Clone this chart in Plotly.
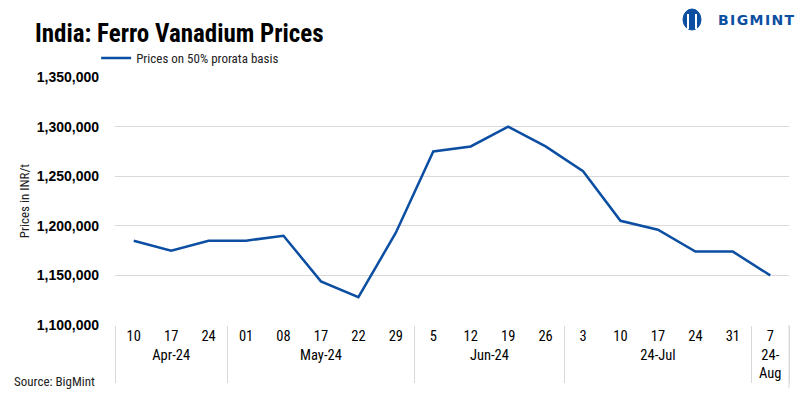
import plotly.graph_objects as go

months = ["Apr-24"] * 3 + ["May-24"] * 5 + ["Jun-24"] * 4 + ["24-Jul"] * 5 + ["24-<br>Aug"]
days = ["10", "17", "24", "01", "08", "17", "22", "29", "5", "12", "19", "26",
        "3", "10", "17", "24", "31", "7"]
prices = [1185000, 1175000, 1185000, 1185000, 1190000, 1144000, 1128000, 1193000,
          1275000, 1280000, 1300000, 1280000, 1255000, 1205000, 1196000, 1174000,
          1174000, 1150000]
series_name = "Prices on 50% prorata basis"

# plotly orders multicategory inner labels by first appearance, so repeated day
# labels get invisible zero-width suffixes to keep chronological order
seen = {}
day_labels = []
for d in days:
    n = seen.get(d, 0)
    day_labels.append(d + "\u200b" * n)
    seen[d] = n + 1

FONT = "Roboto Condensed, Liberation Sans, sans-serif"
BLUE = "#0b4ea2"
GRID = "#d9d9d9"

fig = go.Figure()
fig.add_trace(go.Scatter(
    x=[months, day_labels], y=prices, mode="lines", name=series_name,
    line=dict(color=BLUE, width=2.5),
))

W, H = 805, 398
L, R, T, B = 115, 16, 77, 73
PW, PH = W - L - R, H - T - B

fig.update_layout(
    width=W, height=H,
    margin=dict(l=L, r=R, t=T, b=B, autoexpand=False),
    paper_bgcolor="white", plot_bgcolor="white",
    font=dict(family=FONT, size=13, color="#000000"),
    title=dict(text="<b>India: Ferro Vanadium Prices</b>", x=35 / W, xanchor="left",
               y=1 - 33 / H, yanchor="middle", yref="container",
               font=dict(family=FONT, size=25, color="#000000")),
    showlegend=True,
    legend=dict(orientation="h", x=-0.028, xanchor="left", y=1 + 19 / PH,
                yanchor="middle", font=dict(family=FONT, size=13, color="#222"),
                bgcolor="rgba(0,0,0,0)", itemwidth=30),
    xaxis=dict(type="multicategory", range=[-0.5, len(days) - 0.5],
               showgrid=False, showline=False, ticks="",
               showdividers=True, dividercolor=GRID, dividerwidth=1,
               tickfont=dict(family=FONT, size=14.5, color="#000"),
               zeroline=False),
    yaxis=dict(range=[1100000, 1350000], dtick=50000, tickformat=",d",
               showgrid=True, gridcolor=GRID, gridwidth=1, zeroline=False,
               showline=False, ticks="", ticklabelstandoff=15,
               tickfont=dict(family="Liberation Sans, Arial, sans-serif", size=14,
                             color="#000", weight="bold"),
               title=dict(text="Prices in INR/t", standoff=4,
                          font=dict(family=FONT, size=13, color="#222"))),
)

# right border of the label table
fig.add_shape(type="line", xref="paper", yref="paper", x0=1, x1=1, y0=0,
              y1=-63 / PH, line=dict(color=GRID, width=1))

fig.add_annotation(text="Source: BigMint", xref="paper", yref="paper",
                   x=-(L - 12) / PW, xanchor="left",
                   y=-(381 - (H - B)) / PH, yanchor="middle",
                   showarrow=False, font=dict(family=FONT, size=13, color="#222"))

# BIGMINT logo
fig.add_annotation(text="<b>B\u200aI\u200aG\u200aM\u200aI\u200aN\u200aT</b>",
                   xref="paper", yref="paper",
                   x=1 + (R - 8) / PW, xanchor="right",
                   y=1 + (T - 20) / PH, yanchor="middle",
                   showarrow=False,
                   font=dict(family="DejaVu Sans, sans-serif", size=14, color=BLUE))
px = lambda v: (v - L) / PW
py = lambda v: ((H - B) - v) / PH
fig.add_shape(type="circle", xref="paper", yref="paper", x0=px(683), x1=px(701),
              y0=py(30), y1=py(9), fillcolor=BLUE, line=dict(color=BLUE, width=1))
for cx in (688, 696):
    fig.add_shape(type="line", xref="paper", yref="paper", x0=px(cx), x1=px(cx),
                  y0=py(29), y1=py(14), line=dict(color="white", width=2))

fig.write_html("out.html", config={"displayModeBar": False},
               post_script="document.body.style.margin='0';document.body.style.overflow='hidden';")
